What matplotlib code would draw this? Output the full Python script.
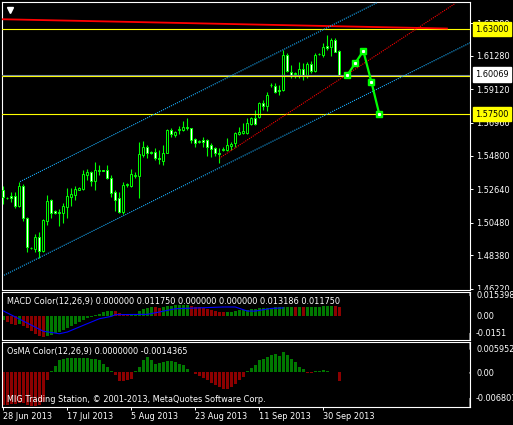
import numpy as np
import matplotlib
matplotlib.use('Agg')
import matplotlib.pyplot as plt
from matplotlib.transforms import Bbox, TransformedBbox

plt.rcParams['font.family'] = ['DejaVu Sans']
FS = 5.9

# daily bars from 28 Jun 2013 (broker shows Sunday bars too)
opens = [1.5260, 1.5210, 1.5221, 1.5219, 1.5159, 1.5286, 1.5077, 1.4886, 1.4878, 1.4954,
         1.4867, 1.5061, 1.5195, 1.5122, 1.5120, 1.5109, 1.5152, 1.5216, 1.5227, 1.5262,
         1.5264, 1.5359, 1.5374, 1.5320, 1.5383, 1.5389, 1.5389, 1.5340, 1.5245, 1.5206,
         1.5120, 1.5292, 1.5288, 1.5352, 1.5352, 1.5487, 1.5536, 1.5504, 1.5504, 1.5465,
         1.5448, 1.5502, 1.5649, 1.5614, 1.5647, 1.5649, 1.5670, 1.5660, 1.5590, 1.5570,
         1.5581, 1.5583, 1.5551, 1.5529, 1.5502, 1.5519, 1.5519, 1.5546, 1.5562, 1.5621,
         1.5629, 1.5627, 1.5686, 1.5728, 1.5730, 1.5825, 1.5806, 1.5937, 1.5933, 1.5907,
         1.5907, 1.6134, 1.6026, 1.6011, 1.6005, 1.6041, 1.6005, 1.6073, 1.6031, 1.6138,
         1.6134, 1.6194, 1.6188, 1.6230, 1.6160]
highs = [1.5286, 1.5214, 1.5249, 1.5245, 1.5310, 1.5297, 1.5087, 1.4889, 1.4975, 1.4987,
         1.5072, 1.5227, 1.5201, 1.5131, 1.5137, 1.5174, 1.5271, 1.5271, 1.5286, 1.5277,
         1.5389, 1.5395, 1.5385, 1.5439, 1.5422, 1.5391, 1.5422, 1.5357, 1.5260, 1.5249,
         1.5314, 1.5307, 1.5396, 1.5374, 1.5572, 1.5577, 1.5553, 1.5511, 1.5529, 1.5519,
         1.5551, 1.5653, 1.5664, 1.5642, 1.5677, 1.5706, 1.5724, 1.5664, 1.5594, 1.5583,
         1.5605, 1.5590, 1.5562, 1.5540, 1.5529, 1.5540, 1.5594, 1.5572, 1.5637, 1.5670,
         1.5692, 1.5724, 1.5734, 1.5778, 1.5832, 1.5843, 1.5896, 1.5953, 1.5950, 1.5939,
         1.6166, 1.6145, 1.6069, 1.6026, 1.6090, 1.6080, 1.6090, 1.6095, 1.6145, 1.6145,
         1.6209, 1.6263, 1.6241, 1.6241, 1.6166]
lows = [1.5170, 1.5201, 1.5184, 1.5142, 1.5152, 1.5061, 1.4860, 1.4878, 1.4860, 1.4818,
        1.4860, 1.5033, 1.5077, 1.5105, 1.5028, 1.5044, 1.5081, 1.5157, 1.5195, 1.5260,
        1.5260, 1.5325, 1.5288, 1.5260, 1.5357, 1.5381, 1.5330, 1.5216, 1.5124, 1.5109,
        1.5105, 1.5281, 1.5279, 1.5336, 1.5210, 1.5476, 1.5469, 1.5493, 1.5454, 1.5426,
        1.5422, 1.5498, 1.5605, 1.5605, 1.5621, 1.5642, 1.5649, 1.5562, 1.5540, 1.5562,
        1.5540, 1.5482, 1.5476, 1.5482, 1.5433, 1.5515, 1.5513, 1.5519, 1.5540, 1.5616,
        1.5621, 1.5621, 1.5681, 1.5681, 1.5724, 1.5778, 1.5771, 1.5926, 1.5885, 1.5874,
        1.5902, 1.6026, 1.5983, 1.5983, 1.5983, 1.5972, 1.5983, 1.6016, 1.6026, 1.6134,
        1.6123, 1.6166, 1.6129, 1.6151, 1.6005]
closes = [1.5212, 1.5206, 1.5210, 1.5159, 1.5286, 1.5077, 1.4889, 1.4882, 1.4954, 1.4867,
          1.5066, 1.5188, 1.5109, 1.5113, 1.5109, 1.5157, 1.5221, 1.5236, 1.5266, 1.5275,
          1.5363, 1.5376, 1.5320, 1.5389, 1.5389, 1.5383, 1.5340, 1.5242, 1.5195, 1.5120,
          1.5292, 1.5297, 1.5361, 1.5359, 1.5493, 1.5540, 1.5498, 1.5502, 1.5465, 1.5461,
          1.5498, 1.5649, 1.5621, 1.5634, 1.5653, 1.5670, 1.5663, 1.5583, 1.5562, 1.5575,
          1.5568, 1.5540, 1.5525, 1.5498, 1.5493, 1.5524, 1.5551, 1.5555, 1.5627, 1.5634,
          1.5639, 1.5695, 1.5728, 1.5688, 1.5825, 1.5806, 1.5874, 1.5939, 1.5896, 1.5902,
          1.6134, 1.6031, 1.6005, 1.6016, 1.6041, 1.5998, 1.6073, 1.6031, 1.6134, 1.6140,
          1.6188, 1.6181, 1.6230, 1.6155, 1.6007]

# hand drawn projection (bar index, price)
proj_x = [86, 88, 90, 92, 94]
proj_y = [1.6003, 1.6082, 1.6160, 1.5961, 1.5750]

# objects on the chart
levels = [1.6300, 1.6000, 1.5750]
bid = 1.60069
red_line_x, red_line_y = [-0.1, 110.9], [1.6365, 1.6305]
trend_x, trend_y = [54, 113], [1.5465, 1.6468]
chan_low_x, chan_low_y = [0.17, 116.7], [1.4708, 1.6213]
chan_up_x, chan_up_y = [4.17, 93.4], [1.5314, 1.6472]

price_ticks = [1.63380, 1.61280, 1.59120, 1.56960, 1.54800, 1.52640, 1.50480, 1.48380, 1.46220]

# MACD Color: main histogram and signal line
macd = [-0.0026, -0.0036, -0.0047, -0.0058, -0.0051, -0.0061, -0.0077, -0.0096, -0.0113, -0.0126,
        -0.0132, -0.0124, -0.0117, -0.0109, -0.0100, -0.0090, -0.0077, -0.0064, -0.0051, -0.0038,
        -0.0026, -0.0013, -0.0003, 0.0006, 0.0017, 0.0026, 0.0032, 0.0035, 0.0032, 0.0019,
        0.0013, 0.0010, 0.0013, 0.0015, 0.0032, 0.0045, 0.0054, 0.0061, 0.0059, 0.0056,
        0.0061, 0.0067, 0.0069, 0.0070, 0.0072, 0.0073, 0.0074, 0.0067, 0.0062, 0.0058,
        0.0053, 0.0048, 0.0042, 0.0035, 0.0031, 0.0029, 0.0030, 0.0031, 0.0035, 0.0038,
        0.0040, 0.0044, 0.0046, 0.0048, 0.0051, 0.0053, 0.0055, 0.0056, 0.0057, 0.0058,
        0.0059, 0.0060, 0.0061, 0.0060, 0.0061, 0.0059, 0.0060, 0.0061, 0.0062, 0.0063,
        0.0064, 0.0065, 0.0066, 0.0064, 0.0062]
signal_x = [0, 10, 14, 16, 20, 24, 27, 28, 36, 39, 43, 55, 58, 61, 63, 67, 70]
signal_y = [0.0035, -0.0095, -0.0111, -0.0100, -0.0057, -0.0015, 0.0000, 0.0011, 0.0013,
            0.0028, 0.0049, 0.0060, 0.0060, 0.0034, 0.0034, 0.0051, 0.0054]
macd_min, macd_max = -0.0151, 0.015398
macd_labels = ['0.015398', '0.00', '-0.0151']

osma = [-0.00653, -0.00653, -0.00634, -0.00634, -0.00614, -0.00614, -0.00653, -0.00673, -0.00673, -0.00653,
        -0.00594, -0.00158, 0.00020, 0.00125, 0.00238, 0.00271, 0.00291, 0.00291, 0.00291, 0.00291,
        0.00291, 0.00291, 0.00271, 0.00271, 0.00238, 0.00172, 0.00105, 0.00020, -0.00046, -0.00178,
        -0.00178, -0.00158, -0.00125, 0.00020, 0.00105, 0.00238, 0.00303, 0.00238, 0.00172, 0.00192,
        0.00204, 0.00218, 0.00218, 0.00204, 0.00172, 0.00139, 0.00073, 0.00010, -0.00026, -0.00073,
        -0.00113, -0.00158, -0.00204, -0.00257, -0.00291, -0.00323, -0.00323, -0.00291, -0.00224, -0.00158,
        -0.00093, 0.00020, 0.00085, 0.00152, 0.00238, 0.00271, 0.00303, 0.00337, 0.00370, 0.00323,
        0.00402, 0.00337, 0.00271, 0.00204, 0.00105, 0.00059, -0.00020, -0.00014, 0.00020, 0.00034,
        0.00046, 0.00034, 0.00006, 0.00006, -0.00170]
osma_min, osma_max = -0.006801, 0.0059524
osma_labels = ['0.0059524', '0.00', '-0.006801']

date_pos = [0, 16, 32, 48, 64, 80]
date_labels = ['28 Jun 2013', '17 Jul 2013', '5 Aug 2013', '23 Aug 2013', '11 Sep 2013', '30 Sep 2013']

LIME = '#00FF00'
W, H = 513, 425


def box(x0, y0, x1, y1):
    return [x0 / W, 1 - y1 / H, (x1 - x0) / W, (y1 - y0) / H]


fig = plt.figure(figsize=(W / 100, H / 100), dpi=100, facecolor='black')
ax = fig.add_axes(box(2.3, 2.3, 470, 289.7))
ax_m = fig.add_axes(box(2.3, 292.3, 470, 340), sharex=ax)
ax_o = fig.add_axes(box(2.3, 342.3, 470, 406.7), sharex=ax)

for a in (ax, ax_m, ax_o):
    a.set_facecolor('black')
    for s in a.spines.values():
        s.set_color('white')
        s.set_linewidth(0.8)
    a.yaxis.tick_right()
    a.tick_params(axis='y', colors='white', labelsize=FS, length=2.2, width=0.7, pad=2.2)
    a.tick_params(axis='x', colors='white', labelsize=FS, length=2.2, width=0.7, pad=1.5)

ax.set_xlim(-0.26, 116.67)
ax.set_ylim(1.46145, 1.64748)
ax.tick_params(axis='x', bottom=False, labelbottom=False)
ax_m.tick_params(axis='x', bottom=False, labelbottom=False)

# candles
idx = np.arange(len(closes))
o = np.array(opens)
c = np.array(closes)
bull = c >= o
ax.vlines(idx, lows, highs, color=LIME, lw=0.8, zorder=3)
bottom = np.minimum(o, c)
height = np.maximum(np.abs(c - o), 0.00008)
ax.bar(idx, height, bottom=bottom, width=0.55, color=np.where(bull, 'black', 'white'),
       edgecolor=LIME, linewidth=0.7, zorder=4)

# objects
for lv in levels:
    ax.axhline(lv, color='#FFFF00', lw=0.8, zorder=5)
ax.axhline(bid, color='#778899', lw=0.8, zorder=5)
ax.plot(red_line_x, red_line_y, color='red', lw=1.3, zorder=5)
ax.plot(trend_x, trend_y, color='red', lw=0.8, ls=(0, (1, 1)), zorder=5)
ax.plot(chan_low_x, chan_low_y, color='#1AAFFF', lw=0.8, ls=(0, (1, 1)), zorder=5)
ax.plot(chan_up_x, chan_up_y, color='#1AAFFF', lw=0.8, ls=(0, (1, 1)), zorder=5)
ax.plot(proj_x, proj_y, color=LIME, lw=1.6, marker='s', ms=4.5, mfc=LIME, mec=LIME, zorder=6)
ax.plot(proj_x, proj_y, ls='none', marker='s', ms=1.2, mfc='white', mec='white', zorder=7)
ax.plot([0.016], [0.972], transform=ax.transAxes, marker='v', ms=4.5, color='white', zorder=8)

ax.set_yticks(price_ticks)
ax.set_yticklabels([f'{t:.5f}' for t in price_ticks])
# price labels are cut at the panel border, as in the terminal
clip = TransformedBbox(Bbox([[0, 1 - 289.7 / H], [1, 1 - 2.3 / H]]), fig.transFigure)
for lab in ax.get_yticklabels():
    lab.set_clip_box(clip)
    lab.set_clip_on(True)

yt = ax.get_yaxis_transform()
for lv, txt, col in [(1.6300, '1.63000', '#FFFF00'), (bid, '1.60069', 'white'),
                     (1.5750, '1.57500', '#FFFF00')]:
    ax.text(1.011, lv, txt, transform=yt, fontsize=FS, color='black', va='center', ha='left',
            bbox=dict(boxstyle='square,pad=0.32', fc=col, ec=col), clip_on=False, zorder=10)

# MACD panel
m = np.array(macd)
rising = np.r_[True, np.diff(m) >= 0]
ax_m.bar(idx, m, width=0.75, color=np.where(rising, '#007800', '#8C0000'), zorder=2)
ax_m.plot(signal_x, signal_y, color='#0000FF', lw=0.8, zorder=3)
ax_m.set_ylim(macd_min, macd_max)
ax_m.set_yticks([])
ax_m.text(0.0107, 0.81, 'MACD Color(12,26,9) 0.000000 0.011750 0.000000 0.000000 0.013186 0.011750',
          transform=ax_m.transAxes, fontsize=FS, color='white', va='center', ha='left', zorder=5)

# OsMA panel
v = np.array(osma)
ax_o.bar(idx, v, width=0.75, color=np.where(v >= 0, '#007800', '#8C0000'), zorder=2)
ax_o.set_ylim(osma_min, osma_max)
ax_o.set_yticks([])
ax_o.text(0.0107, 0.85, 'OsMA Color(12,26,9) 0.0000000 -0.0014365',
          transform=ax_o.transAxes, fontsize=FS, color='white', va='center', ha='left', zorder=5)
ax_o.text(0.0107, 0.115, 'MIG Trading Station, \u00a9 2001-2013, MetaQuotes Software Corp.',
          transform=ax_o.transAxes, fontsize=FS, color='white', va='center', ha='left', zorder=5)

# scale labels of the indicator windows, kept inside each window (offsets in pixels, up positive)
for a, vals, labs, shifts in [(ax_m, [macd_max, 0.0, macd_min], macd_labels, [-3.4, 0, 6.7]),
                              (ax_o, [osma_max, 0.0, osma_min], osma_labels, [-7, -1, 8.4])]:
    for val, lab, dy in zip(vals, labs, shifts):
        a.annotate(lab, xy=(1, val), xycoords=a.get_yaxis_transform(), xytext=(6, dy),
                   textcoords='offset pixels', fontsize=FS, color='white', va='center',
                   ha='left', annotation_clip=False)
        a.annotate('', xy=(1, val), xycoords=a.get_yaxis_transform(), xytext=(0, dy),
                   textcoords='offset pixels',
                   arrowprops=dict(arrowstyle='-', color='white', lw=0.7, shrinkA=0, shrinkB=0,
                                   relpos=(0, 0.5)),
                   annotation_clip=False)

ax_o.set_xticks(date_pos)
ax_o.set_xticklabels(date_labels, ha='left')

fig.savefig('out.png', dpi=100, facecolor='black')
